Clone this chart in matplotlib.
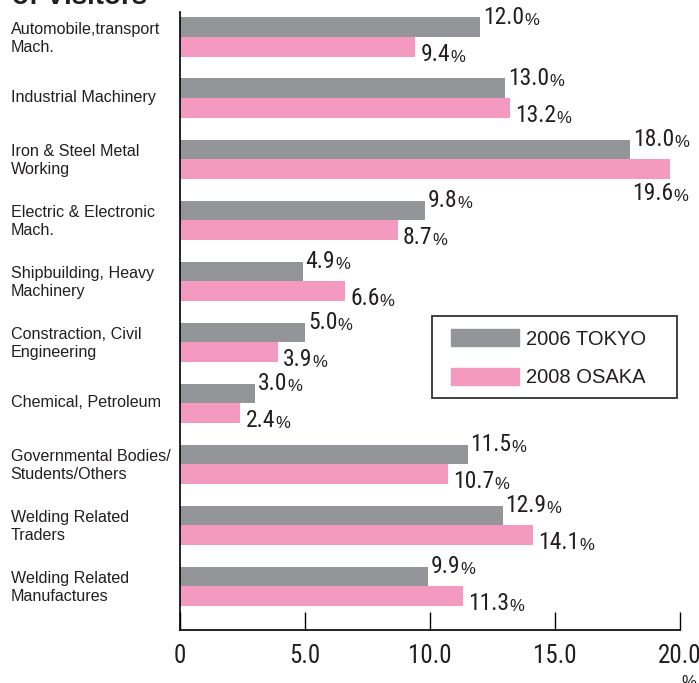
import matplotlib
matplotlib.use("Agg")
import matplotlib.pyplot as plt
from matplotlib import font_manager
from matplotlib.patches import Rectangle, Patch
import numpy as np

categories = [
    "Automobile,transport\nMach.",
    "Industrial Machinery",
    "Iron & Steel Metal\nWorking",
    "Electric & Electronic\nMach.",
    "Shipbuilding, Heavy\nMachinery",
    "Constraction, Civil\nEngineering",
    "Chemical, Petroleum",
    "Governmental Bodies/\nStudents/Others",
    "Welding Related\nTraders",
    "Welding Related\nManufactures",
]
tokyo_2006 = [12.0, 13.0, 18.0, 9.8, 4.9, 5.0, 3.0, 11.5, 12.9, 9.9]
osaka_2008 = [9.4, 13.2, 19.6, 8.7, 6.6, 3.9, 2.4, 10.7, 14.1, 11.3]
series_names = ["2006 TOKYO", "2008 OSAKA"]
xticks = [0, 5, 10, 15, 20]
xtick_labels = ["0", "5.0", "10.0", "15.0", "20.0"]

GRAY = "#939598"
PINK = "#F49AC1"
TXT = "#231F20"

avail = {f.name for f in font_manager.fontManager.ttflist}
NARROW = None
for cand in ["Liberation Sans Narrow", "Roboto Condensed", "Open Sans Condensed",
             "Arial Narrow"]:
    if cand in avail:
        NARROW = cand
        break
REG = "Liberation Sans"
if NARROW is None:
    NARROW = REG
    NUM_SIZE = 16
    TICK_SIZE = 16.5
else:
    NUM_SIZE = 17
    TICK_SIZE = 18

W, H = 699, 683
fig = plt.figure(figsize=(W / 100, H / 100), dpi=100)
ax = fig.add_axes([180 / W, 53 / H, 500 / W, 618 / H])

y = np.arange(len(categories))
bh = 0.32
ax.barh(y - bh / 2, tokyo_2006, height=bh, color=GRAY, linewidth=0)
ax.barh(y + bh / 2, osaka_2008, height=bh, color=PINK, linewidth=0)

ax.set_xlim(0, 20)
ax.set_ylim(9.72, -0.41)

for s in ["top", "right"]:
    ax.spines[s].set_visible(False)
for s in ["left", "bottom"]:
    ax.spines[s].set_linewidth(1.2)
    ax.spines[s].set_color("black")

ax.set_xticks(xticks)
ax.set_xticklabels(xtick_labels, fontfamily=NARROW, fontsize=TICK_SIZE, color=TXT)
ax.tick_params(axis="x", direction="in", length=13, width=1, pad=10,
               colors="black", labelcolor=TXT)

ax.set_yticks(y - 0.03)
ax.set_yticklabels(categories, fontfamily=REG, fontsize=11.6, color=TXT,
                   ha="left", linespacing=1.25)
ax.tick_params(axis="y", length=0, pad=122)


def value_label(x, yc, val):
    return ax.text(x, yc, f"{val:.1f}", fontfamily=NARROW, fontsize=NUM_SIZE,
                   color=TXT, va="center", ha="left")


def add_pct(t):
    ax.annotate("%", xy=(1, 0.05), xycoords=t, xytext=(0, 0),
                textcoords="offset points", fontfamily=REG, fontsize=12,
                color=TXT, va="bottom", ha="left")


off = 0.12
for i, v in enumerate(tokyo_2006):
    add_pct(value_label(v + off, i - bh + 0.0, v))
for i, v in enumerate(osaka_2008):
    if v > 19:
        t = value_label(v - 1.5, i + bh + 0.25, v)
    else:
        t = value_label(v + off + 0.1, i + bh - 0.03, v)
    add_pct(t)

# percent unit under the axis end
fig.text(681 / W, 1 - 675 / H, "%", fontfamily=REG, fontsize=12, color=TXT,
         ha="left", va="top")

# cropped title
fig.text(12 / W, 1 - 4 / H, "of Visitors", fontfamily=REG, fontsize=20,
         fontweight="bold", color=TXT, ha="left", va="baseline")

# legend
box = Rectangle((432 / W, 1 - 398 / H), 245 / W, 82 / H, transform=fig.transFigure,
                fill=False, edgecolor="#333333", linewidth=1.3)
fig.patches.append(box)
handles = [Patch(color=GRAY), Patch(color=PINK)]
fig.legend(handles, series_names, loc="upper left",
           bbox_to_anchor=(451 / W, 1 - 329 / H), bbox_transform=fig.transFigure,
           frameon=False, borderpad=0, borderaxespad=0,
           prop={"family": REG, "size": 14.5},
           handlelength=3.4, handleheight=0.95, handletextpad=0.3,
           labelspacing=0.95, labelcolor=TXT)

fig.savefig("out.png", dpi=100)
